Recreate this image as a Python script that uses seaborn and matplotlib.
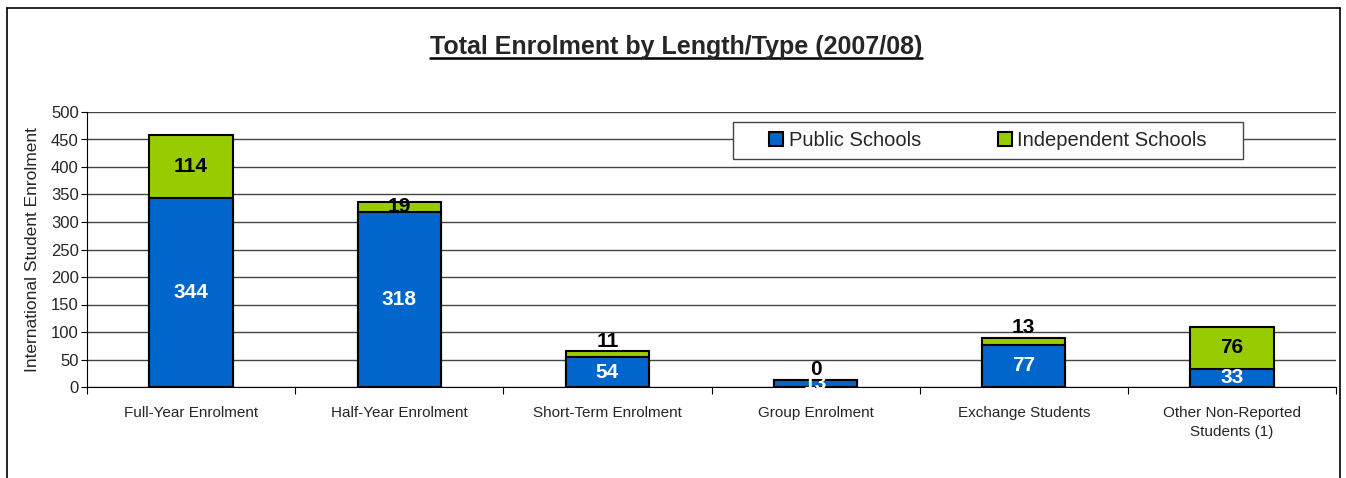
import matplotlib
matplotlib.use("Agg")
import matplotlib.pyplot as plt
import seaborn as sns
import pandas as pd
from matplotlib.lines import Line2D
from matplotlib.patches import Patch, Rectangle

categories = ["Full-Year Enrolment", "Half-Year Enrolment", "Short-Term Enrolment",
              "Group Enrolment", "Exchange Students", "Other Non-Reported\nStudents (1)"]
public = [344, 318, 54, 13, 77, 33]
independent = [114, 19, 11, 0, 13, 76]

blue = "#0066CC"
green = "#99CC00"

df = pd.DataFrame({"cat": categories, "public": public, "independent": independent})
df["total"] = df["public"] + df["independent"]

sns.set_style("white")
plt.rcParams["font.family"] = ["Liberation Sans", "DejaVu Sans"]

W, H = 1346, 478
fig = plt.figure(figsize=(13.46, 4.78), dpi=100)
ax = fig.add_axes([87 / W, 1 - 387 / H, (1336 - 87) / W, 275 / H])

sns.barplot(data=df, x="cat", y="total", color=green, width=0.4, saturation=1,
            edgecolor="black", linewidth=1.5, ax=ax, zorder=3)
sns.barplot(data=df, x="cat", y="public", color=blue, width=0.4, saturation=1,
            edgecolor="black", linewidth=1.5, ax=ax, zorder=3)

# value labels
for i, (p, ind) in enumerate(zip(public, independent)):
    ax.text(i, p / 2, str(p), ha="center", va="center", color="white",
            fontsize=15, fontweight="bold", zorder=4)
    if ind < 15:
        ax.text(i, p + ind + 1, str(ind), ha="center", va="bottom", color="black",
                fontsize=15, fontweight="bold", zorder=4)
    else:
        ax.text(i, p + ind / 2, str(ind), ha="center", va="center", color="black",
                fontsize=15, fontweight="bold", zorder=4)

ax.set_ylim(0, 500)
ax.set_xlim(-0.5, len(categories) - 0.5)
ax.set_yticks(range(0, 501, 50))
ax.yaxis.grid(True, color="#444444", linewidth=1, zorder=0)
ax.set_axisbelow(True)
for s in ["top", "right"]:
    ax.spines[s].set_visible(False)
ax.spines["left"].set_color("black")
ax.spines["bottom"].set_color("black")
ax.tick_params(axis="y", labelsize=12, length=4, color="black", left=True, pad=2)

# category labels at centres, tick marks at boundaries
ax.set_xticks([i for i in range(len(categories))], minor=True)
ax.set_xticklabels(categories, minor=True)
ax.set_xticks([i - 0.5 for i in range(len(categories) + 1)])
ax.set_xticklabels([])
ax.tick_params(axis="x", which="minor", length=0, pad=14, labelsize=11)
ax.tick_params(axis="x", which="major", length=5, color="black", bottom=True)
for lbl in ax.get_xticklabels(minor=True):
    lbl.set_linespacing(1.45)
ax.set_xlabel("")
ax.set_ylabel("International Student Enrolment", fontsize=12.5, labelpad=8)

# legend: separate frame box, frameless legend inside
fig.add_artist(Rectangle((733 / W, 1 - 159 / H), (1243 - 733) / W, 37 / H,
                         transform=fig.transFigure, facecolor="white",
                         edgecolor="#444444", linewidth=1, zorder=5))
handles = [Patch(facecolor=blue, edgecolor="black", linewidth=1.5, label="Public Schools"),
           Patch(facecolor=green, edgecolor="black", linewidth=1.5, label="Independent Schools")]
leg = fig.legend(handles=handles, loc="center left",
                 bbox_to_anchor=(769 / W, 1 - 140.5 / H),
                 ncol=2, fontsize=14.5, frameon=False, handlelength=0.7,
                 handleheight=0.7, handletextpad=0.28, columnspacing=3.8,
                 borderpad=0, borderaxespad=0)
leg.set_zorder(6)

# title with underline
title = fig.text(676 / W, 1 - 47 / H, "Total Enrolment by Length/Type (2007/08)",
                 ha="center", va="center", fontsize=18, fontweight="bold")
fig.canvas.draw()
bb = title.get_window_extent().transformed(fig.transFigure.inverted())
fig.add_artist(Line2D([bb.x0, bb.x1], [bb.y0 + 0.002, bb.y0 + 0.002],
                      transform=fig.transFigure, color="black", linewidth=1.8))

# outer chart frame
for xs, ys in [([7, 7], [8, 478]), ([7, 1340], [8, 8]), ([1340, 1340], [8, 478])]:
    fig.add_artist(Line2D([x / W for x in xs], [1 - y / H for y in ys],
                          transform=fig.transFigure, color="black", linewidth=1.2))

fig.savefig("out.png", dpi=100)
